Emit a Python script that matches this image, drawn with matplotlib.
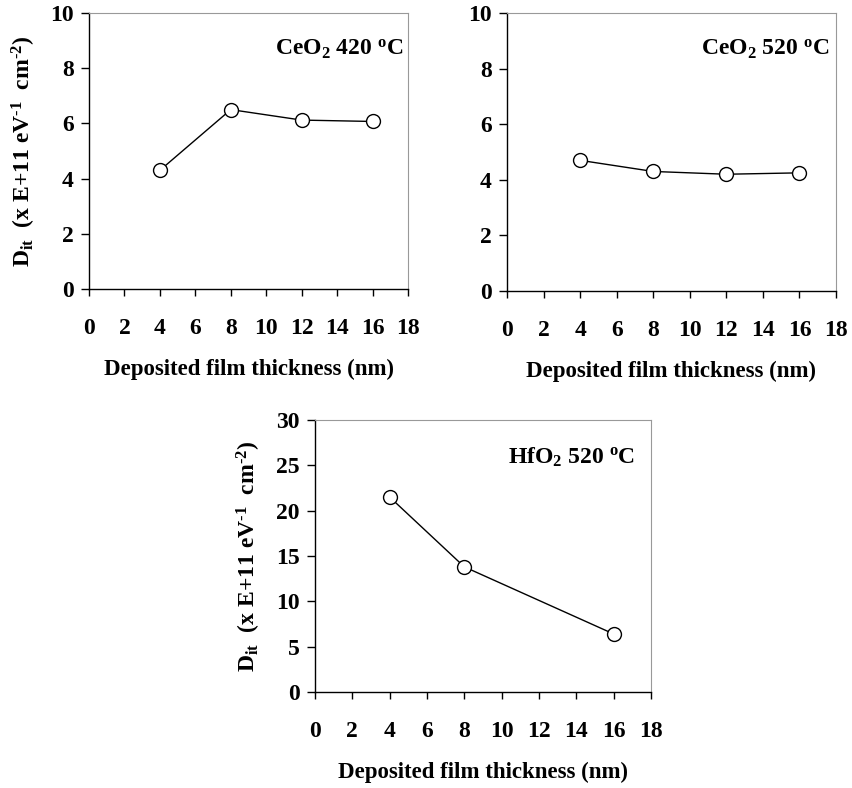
import matplotlib
matplotlib.use("Agg")
import matplotlib.pyplot as plt

plt.rcParams['font.family'] = ['Liberation Serif', 'DejaVu Serif']
plt.rcParams['font.weight'] = 'bold'
plt.rcParams['mathtext.fontset'] = 'custom'
plt.rcParams['mathtext.rm'] = 'Liberation Serif:bold'
plt.rcParams['mathtext.it'] = 'Liberation Serif:bold'
plt.rcParams['mathtext.bf'] = 'Liberation Serif:bold'
plt.rcParams['axes.unicode_minus'] = False

thickness_ceo2 = [4, 8, 12, 16]
dit_ceo2_420 = [4.3, 6.5, 6.12, 6.07]
dit_ceo2_520 = [4.7, 4.3, 4.2, 4.25]

thickness_hfo2 = [4, 8, 16]
dit_hfo2_520 = [21.5, 13.8, 6.4]

x_ticks = [0, 2, 4, 6, 8, 10, 12, 14, 16, 18]
xlabel = 'Deposited film thickness (nm)'
ylabel = (r'$\mathregular{D_{it}}$  (x E+11 eV$^{\mathregular{\text{-}1}}$'
          r'  cm$^{\mathregular{\text{-}2}}$)')

W, H = 852, 788
fig = plt.figure(figsize=(W / 100, H / 100), dpi=100)


def add_axes(l, t, r, b):
    return fig.add_axes([l / W, 1 - b / H, (r - l) / W, (b - t) / H])


def style(ax, ymax, ystep, label_text, label_pos, with_ylabel):
    ax.set_xlim(0, 18)
    ax.set_ylim(0, ymax)
    ax.set_xticks(x_ticks)
    ax.set_yticks(list(range(0, ymax + 1, ystep)))
    for s in ('top', 'right'):
        ax.spines[s].set_color('#999999')
        ax.spines[s].set_linewidth(0.8)
    for s in ('left', 'bottom'):
        ax.spines[s].set_color('black')
        ax.spines[s].set_linewidth(1.0)
    ax.tick_params(axis='x', direction='out', length=5, width=1.0, pad=16,
                   labelsize=17)
    ax.tick_params(axis='y', direction='out', length=6, width=1.0, pad=5,
                   labelsize=17)
    ax.set_xlabel(xlabel, fontsize=16.5, fontweight='bold', labelpad=14)
    if with_ylabel:
        ax.set_ylabel(ylabel, fontsize=17, fontweight='bold', labelpad=9)
    ax.text(label_pos[0], label_pos[1], label_text, transform=ax.transAxes,
            ha='right', va='center', fontsize=17, fontweight='bold')


def draw(ax, x, y):
    ax.plot(x, y, color='black', linewidth=1.0, marker='o', markersize=10,
            markerfacecolor='white', markeredgecolor='black',
            markeredgewidth=1.0, clip_on=False)


ax1 = add_axes(89, 13, 408, 289)
draw(ax1, thickness_ceo2, dit_ceo2_420)
style(ax1, 10, 2, r'CeO$_2$ 420 $^{\mathregular{o}}$C', (0.984, 0.87), True)

ax2 = add_axes(507, 13, 836, 291)
draw(ax2, thickness_ceo2, dit_ceo2_520)
style(ax2, 10, 2, r'CeO$_2$ 520 $^{\mathregular{o}}$C', (0.979, 0.87), False)

ax3 = add_axes(315, 420, 651, 692)
draw(ax3, thickness_hfo2, dit_hfo2_520)
style(ax3, 30, 5, r'HfO$_2$ 520 $^{\mathregular{o}}$C', (0.952, 0.864), True)

fig.savefig('out.png', dpi=100)
